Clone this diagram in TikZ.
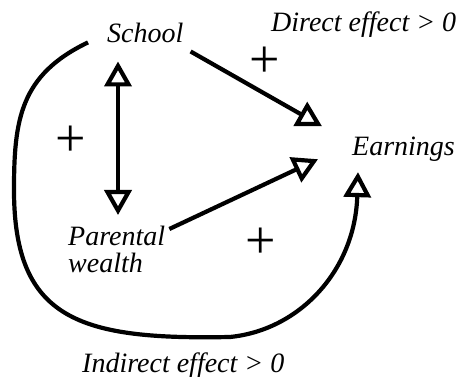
\documentclass[tikz,border=0pt]{standalone}
\usepackage{fontspec}
\setmainfont{Liberation Serif}
\usetikzlibrary{arrows.meta}
\tikzset{lbl/.style={inner sep=0pt,font=\fontsize{28}{27}\selectfont\itshape},
  sign/.style={inner sep=0pt,font=\fontsize{54}{54}\selectfont},
  link/.style={line width=4.2pt}}

\begin{document}
\begin{tikzpicture}[x=1pt,y=-1pt,>={Triangle[open,length=25pt,width=27pt]},line join=round]
\useasboundingbox (0,0) rectangle (461,377);
% --- variables
\node[lbl,anchor=base west] (school) at (107,43) {School};
\node[lbl,anchor=base west] (earn) at (352,156) {Earnings};
\node[lbl,anchor=north west,align=left] (wealth) at (68,226) {Parental\\wealth};
% --- effect labels and signs
\node[lbl,anchor=base west] (direct) at (271,32) {Direct effect > 0};
\node[lbl,anchor=base west] (indirect) at (82,372) {Indirect effect > 0};
\node[sign] (pdirect) at (265,62) {+};
\node[sign] (pcorr) at (71,141) {+};
\node[sign] (pwealth) at (261,243) {+};
% --- arrows
\draw[link,<->] ([shift={(11,18)}]school.south west) -- ([shift={(50,-11)}]wealth.north west);
\draw[link,->] ([shift={(7,8)}]school.south east) -- ([shift={(-30,-11)}]earn.north west);
\draw[link,->] ([shift={(4,3)}]wealth.north east) -- ([shift={(-34,9.5)}]earn.west);
\draw[link,->] ([shift={(-19,9)}]school.west) .. controls (20,75) and (14,120) .. (14,190)
  .. controls (14,320) and (80,340) .. (230,337)
  .. controls (300,330) and (355,270) .. ([shift={(6,10)}]earn.south west);
\end{tikzpicture}
\end{document}
